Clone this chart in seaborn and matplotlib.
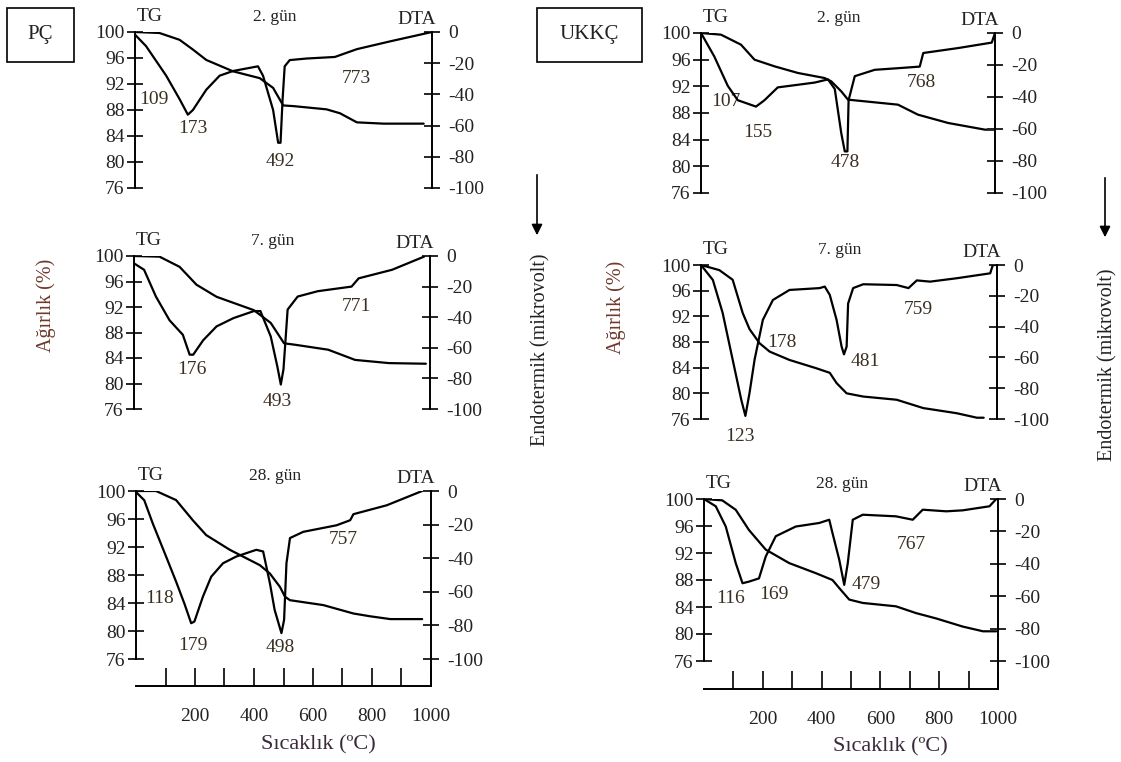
import matplotlib
matplotlib.use('Agg')
import matplotlib.pyplot as plt
import seaborn as sns
from matplotlib.patches import Rectangle, FancyArrowPatch

sns.set_theme(style='white')
plt.rcParams['font.family'] = ['Liberation Serif', 'DejaVu Serif']
plt.rcParams['axes.unicode_minus'] = False

# ---- data: temperature (C), TG (%), DTA (microvolt) ----
pc2_T_tg = [0, 82, 150, 195, 240, 330, 420, 465, 499, 533, 645, 690, 747, 837, 972]
pc2_tg = [100, 99.85, 98.8, 97.3, 95.7, 93.95, 92.9, 91.4, 88.7, 88.6, 88.1, 87.5, 86.1, 85.9, 85.9]
pc2_T_dta = [0, 37, 105, 150, 178, 195, 240, 285, 330, 414, 431, 465, 482, 490, 497, 504, 521, 578, 673, 747, 859, 1000]
pc2_dta = [-1.7, -9, -28, -43, -53, -50, -37, -28, -25, -22, -28, -50, -71, -71, -43, -22, -18, -17, -16, -11, -6, 0]
pc2_peaks = ['109', '173', '492', '773']

pc7_T_tg = [0, 86, 154, 211, 279, 405, 462, 507, 541, 656, 747, 861, 986]
pc7_tg = [100, 99.9, 98.3, 95.5, 93.6, 91.5, 89.5, 86.3, 86.1, 85.3, 83.7, 83.2, 83.1]
pc7_T_dta = [0, 34, 74, 120, 165, 188, 200, 234, 279, 336, 405, 427, 462, 484, 496, 505, 519, 553, 621, 735, 759, 872, 980]
pc7_dta = [-4.8, -9, -26.5, -42, -51.5, -64.5, -64.5, -55, -46, -40.6, -36, -36, -52.6, -72, -84, -74, -35, -26.5, -23, -20, -14.6, -9, -0.4]
pc7_peaks = ['176', '493', '771']

pc28_T_tg = [0, 68, 136, 193, 238, 318, 420, 454, 488, 505, 522, 635, 737, 794, 862, 970]
pc28_tg = [100, 100, 98.7, 95.8, 93.7, 91.6, 89.4, 88.2, 86.3, 84.9, 84.4, 83.7, 82.5, 82.1, 81.7, 81.7]
pc28_T_dta = [0, 28, 57, 102, 136, 164, 187, 198, 227, 255, 295, 340, 408, 431, 454, 470, 493, 502, 510, 522, 567, 680, 726, 737, 850, 970]
pc28_dta = [-0.6, -5.5, -19.4, -39, -54, -67, -78.7, -77.7, -62.8, -51, -43, -39, -35, -36, -55, -70.8, -84.6, -76.7, -43, -28, -24.3, -20.4, -17.4, -13.8, -8.5, 0]
pc28_peaks = ['118', '179', '498', '757']

uk2_T_tg = [0, 68, 136, 182, 250, 330, 420, 443, 477, 500, 557, 670, 738, 841, 966, 1000]
uk2_tg = [100, 99.75, 98.25, 96, 95, 94, 93.25, 92.75, 91.25, 90, 89.75, 89.25, 87.75, 86.5, 85.5, 85.5]
uk2_T_dta = [0, 45, 91, 125, 187, 216, 261, 386, 432, 455, 477, 489, 498, 502, 523, 591, 670, 744, 756, 875, 989, 1000]
uk2_dta = [0, -14.6, -33, -42, -46, -42, -34, -31, -29, -35, -62.5, -74, -74, -42, -27, -23, -22, -21, -12.5, -9.4, -6, 0]
uk2_peaks = ['107', '155', '478', '768']

uk7_T_tg = [0, 62, 107, 141, 164, 198, 232, 299, 390, 435, 458, 492, 548, 661, 751, 864, 932, 955]
uk7_tg = [100, 99.2, 97.7, 92.5, 90.0, 87.8, 86.5, 85.2, 83.9, 83.2, 81.6, 80.0, 79.5, 79.0, 77.7, 76.9, 76.2, 76.2]
uk7_T_dta = [0, 40, 73, 107, 136, 150, 164, 181, 209, 243, 299, 401, 418, 435, 458, 475, 483, 492, 497, 514, 548, 661, 701, 729, 774, 864, 977, 986, 1000]
uk7_dta = [0, -9.7, -31, -61.5, -87.5, -98, -83, -61.5, -35.6, -22.7, -16.2, -15, -14, -19.4, -35.6, -53, -58, -53, -25, -15, -12.5, -13, -15, -10, -10.8, -8.6, -5.4, 0, 0]
uk7_peaks = ['123', '178', '481', '759']

uk28_T_tg = [0, 62, 108, 153, 210, 290, 381, 437, 466, 494, 540, 653, 721, 790, 880, 949, 994]
uk28_tg = [100, 99.8, 98.4, 95.4, 92.5, 90.5, 89.0, 88.0, 86.5, 85.1, 84.6, 84.1, 83.1, 82.3, 81.1, 80.4, 80.4]
uk28_T_dta = [0, 40, 74, 108, 131, 153, 187, 210, 244, 312, 392, 426, 437, 460, 477, 489, 506, 540, 653, 710, 744, 824, 880, 971, 994]
uk28_dta = [0, -4.5, -17, -39.6, -52, -51, -49, -35.5, -23, -17, -14.8, -12.8, -21, -37.5, -53, -39.6, -12.8, -9.7, -10.7, -12.8, -6.6, -7.6, -7, -4.5, 0]
uk28_peaks = ['116', '169', '479', '767']

days = ['2. gün', '7. gün', '28. gün']
tg_ticks = [76, 80, 84, 88, 92, 96, 100]
dta_ticks = [-100, -80, -60, -40, -20, 0]
x_major = [200, 400, 600, 800, 1000]
x_minor = [100, 300, 500, 700, 900]

# ---- layout (figure pixels) ----
W, H = 1121, 762
fig = plt.figure(figsize=(W / 100, H / 100), dpi=100)
txt = '#222222'

panels = [
    # left, right, top(100), bottom(76), xaxis_y, data, peak label positions (T, TG-scale)
    (135, 432, 32, 188, None, pc2_T_tg, pc2_tg, pc2_T_dta, pc2_dta, pc2_peaks,
     [(65, 89.6), (195, 85.2), (488, 80.1), (747, 92.9)], days[0]),
    (134, 430, 256, 409, None, pc7_T_tg, pc7_tg, pc7_T_dta, pc7_dta, pc7_peaks,
     [(194, 82.2), (485, 77.2), (752, 92.1)], days[1]),
    (136, 431, 491, 659, 686, pc28_T_tg, pc28_tg, pc28_T_dta, pc28_dta, pc28_peaks,
     [(79, 84.7), (193, 78.0), (488, 77.6), (703, 93.0)], days[2]),
    (701, 995, 33, 193, None, uk2_T_tg, uk2_tg, uk2_T_dta, uk2_dta, uk2_peaks,
     [(85, 89.75), (193, 85.0), (489, 80.5), (750, 92.5)], days[0]),
    (701, 997, 265, 419, None, uk7_T_tg, uk7_tg, uk7_T_dta, uk7_dta, uk7_peaks,
     [(130, 73.3), (275, 87.9), (554, 85.0), (735, 93.0)], days[1]),
    (704, 998, 499, 661, 689, uk28_T_tg, uk28_tg, uk28_T_dta, uk28_dta, uk28_peaks,
     [(91, 85.3), (239, 85.8), (551, 87.3), (704, 93.2)], days[2]),
]

for (l, r, t, b, xa, T_tg, tg, T_dta, dta, peaks, ppos, day) in panels:
    bottom_px = xa if xa is not None else b
    ax = fig.add_axes([l / W, 1 - bottom_px / H, (r - l) / W, (bottom_px - t) / H])
    ax2 = ax.twinx()
    extra = (bottom_px - b) / (b - t) * 24.0
    for a in (ax, ax2):
        a.set_facecolor('none')
        for s in a.spines.values():
            s.set_visible(False)
            s.set_color('black')
            s.set_linewidth(1.4)
    ax.spines['left'].set_visible(True)
    ax.spines['left'].set_bounds(76, 100)
    ax2.spines['right'].set_visible(True)

    sns.lineplot(x=T_tg, y=tg, ax=ax, color='black', lw=1.6, estimator=None, sort=False, legend=False)
    sns.lineplot(x=T_dta, y=dta, ax=ax2, color='black', lw=1.6, estimator=None, sort=False, legend=False)
    ax.set_xlim(0, 1000)
    ax.set_ylim(76 - extra, 100)
    ax2.set_ylim(-100 - extra * 100 / 24.0, 0)

    ax.set_yticks(tg_ticks)
    ax.set_yticklabels([str(v) for v in tg_ticks])
    ax2.set_yticks(dta_ticks)
    ax2.set_yticklabels([str(v) for v in dta_ticks])
    ax.tick_params(axis='y', which='both', direction='inout', length=11, width=1.4,
                   labelsize=14, labelcolor=txt, pad=2, left=True)
    ax2.tick_params(axis='y', which='both', direction='inout', length=11, width=1.4,
                    labelsize=14, labelcolor=txt, pad=6, right=True)
    ax.set_ylabel('')
    ax2.set_ylabel('')

    if xa is not None:
        ax.spines['bottom'].set_visible(True)
        ax.set_xticks(x_major)
        ax.set_xticks(x_minor, minor=True)
        ax.set_xticklabels([str(v) for v in x_major])
        ax.tick_params(axis='x', which='both', direction='in', length=13, width=1.4,
                       labelsize=14, labelcolor=txt, pad=16, bottom=True)
    else:
        ax.set_xticks([])
    ax2.tick_params(axis='x', which='both', bottom=False, labelbottom=False)
    ax.set_xlabel('')

    ax.annotate('TG', xy=(0.05, 100), xycoords=('axes fraction', 'data'), xytext=(0, 11),
                textcoords='offset points', ha='center', va='center', fontsize=14, color=txt)
    ax.annotate(day, xy=(0.47, 100), xycoords=('axes fraction', 'data'), xytext=(0, 11),
                textcoords='offset points', ha='center', va='center', fontsize=12.5, color=txt)
    ax.annotate('DTA', xy=(1.0, 100), xycoords=('axes fraction', 'data'), xytext=(3, 9),
                textcoords='offset points', ha='right', va='center', fontsize=14, color=txt)
    for lab, (px, py) in zip(peaks, ppos):
        ax.text(px, py, lab, ha='center', va='center', fontsize=14, color='#3a3022',
                clip_on=False)

# sample boxes
for (x0, x1, name) in [(7, 74, 'PÇ'), (537, 642, 'UKKÇ')]:
    fig.patches.append(Rectangle((x0 / W, 1 - 62 / H), (x1 - x0) / W, 54 / H,
                                 transform=fig.transFigure, fill=False, ec='black', lw=1.2))
    fig.text((x0 + x1) / 2 / W, 1 - 35 / H, name, ha='center', va='center', fontsize=15, color=txt)

# arrows
for (xp, y0, y1) in [(537, 172, 238), (1105, 175, 240)]:
    fig.patches.append(FancyArrowPatch((xp / W, 1 - y0 / H), (xp / W, 1 - y1 / H),
                                       transform=fig.transFigure, arrowstyle='-|>',
                                       mutation_scale=16, lw=1.2, color='black'))

# axis titles
fig.text(46 / W, 1 - 305 / H, 'Ağırlık (%)', rotation=90, ha='center', va='center',
         fontsize=14.5, color='#6e3a2c')
fig.text(616 / W, 1 - 307 / H, 'Ağırlık (%)', rotation=90, ha='center', va='center',
         fontsize=14.5, color='#6e3a2c')
fig.text(541 / W, 1 - 350 / H, 'Endotermik (mikrovolt)', rotation=90, ha='center', va='center',
         fontsize=14.5, color=txt)
fig.text(1108 / W, 1 - 365 / H, 'Endotermik (mikrovolt)', rotation=90, ha='center', va='center',
         fontsize=14.5, color=txt)
fig.text(318 / W, 1 - 745 / H, 'Sıcaklık (ºC)', ha='center', va='center', fontsize=16, color='#3a2a3a')
fig.text(890 / W, 1 - 747 / H, 'Sıcaklık (ºC)', ha='center', va='center', fontsize=16, color='#3a2a3a')

fig.savefig('out.png', dpi=100, facecolor='white')
